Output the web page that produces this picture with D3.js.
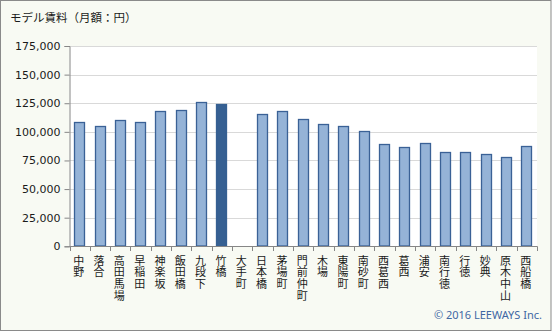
<!DOCTYPE html>
<html>
<head>
<meta charset="utf-8">
<script src="https://cdn.jsdelivr.net/npm/d3@7"></script>
<style>
  html, body { margin: 0; padding: 0; background: #ffffff; }
  svg { display: block; }
</style>
</head>
<body>
<svg id="chart" width="553" height="332"></svg>
<script>
// Stations along the line, west to east
const stations = ["中野", "落合", "高田馬場", "早稲田", "神楽坂", "飯田橋", "九段下", "竹橋",
  "大手町", "日本橋", "茅場町", "門前仲町", "木場", "東陽町", "南砂町", "西葛西", "葛西",
  "浦安", "南行徳", "行徳", "妙典", "原木中山", "西船橋"];
// Model monthly rent (yen); 大手町 has no listing
const rents = [109000, 105000, 110000, 109000, 118000, 119000, 126000, 124000,
  null, 116000, 118000, 111000, 107000, 105000, 100500, 89000, 86500,
  90000, 82000, 82000, 80500, 78000, 88000];
const highlighted = ["竹橋"];
const yTicks = [0, 25000, 50000, 75000, 100000, 125000, 150000, 175000];
const title = "モデル賃料（月額：円）";
const credit = "© 2016 LEEWAYS Inc.";

const svg = d3.select("#chart");
const W = 553, H = 332;
const plot = { left: 69.5, right: 537, top: 46, bottom: 246.3 };

// chart background and frame
svg.append("rect").attr("x", 0.5).attr("y", 0.5).attr("width", W - 2.5).attr("height", H - 2)
  .attr("fill", "#f8faf3").attr("stroke", "#8a8a8a").attr("stroke-width", 1);

// plot area
svg.append("rect").attr("x", plot.left).attr("y", plot.top)
  .attr("width", plot.right - plot.left).attr("height", plot.bottom - plot.top)
  .attr("fill", "#ffffff");

const x = d3.scaleBand().domain(stations).range([plot.left, plot.right]);
const y = d3.scaleLinear().domain([0, 175000]).range([plot.bottom, plot.top]);

// horizontal gridlines
svg.append("g").selectAll("line").data(yTicks.filter(d => d > 0)).join("line")
  .attr("x1", plot.left).attr("x2", plot.right)
  .attr("y1", d => Math.round(y(d)) + 0.5).attr("y2", d => Math.round(y(d)) + 0.5)
  .attr("stroke", "#d9d9d9").attr("stroke-width", 1);

// bars
const bw = x.bandwidth() * 0.54;
svg.append("g").selectAll("rect")
  .data(stations.map((s, i) => ({ s, v: rents[i] })).filter(d => d.v != null))
  .join("rect")
  .attr("x", d => Math.round(x(d.s) + (x.bandwidth() - bw) / 2) + 0.5)
  .attr("y", d => Math.round(y(d.v)) + 0.5)
  .attr("width", Math.round(bw) - 1)
  .attr("height", d => Math.round(plot.bottom) - Math.round(y(d.v)) - 0.5)
  .attr("fill", d => highlighted.includes(d.s) ? "#366092" : "#95b3d7")
  .attr("stroke", d => highlighted.includes(d.s) ? "#366092" : "#3a6196")
  .attr("stroke-width", 1.3);

// y axis
const yAxis = d3.axisLeft(y).tickValues(yTicks).tickSize(5).tickPadding(4)
  .tickFormat(d3.format(","));
const gy = svg.append("g").attr("transform", `translate(${plot.left},0)`).call(yAxis);
gy.select(".domain").attr("stroke", "#868686");
gy.selectAll(".tick line").attr("stroke", "#868686");
gy.selectAll(".tick text").attr("fill", "#1a1a1a")
  .style("font-family", "'DejaVu Sans', sans-serif").style("font-size", "11px");

// x axis: line with ticks on the band boundaries
const gx = svg.append("g");
gx.append("line").attr("x1", plot.left).attr("x2", plot.right + 0.5)
  .attr("y1", 246.5).attr("y2", 246.5).attr("stroke", "#868686");
const bounds = stations.map(s => x(s)).concat([plot.right]);
gx.selectAll("line.tk").data(bounds).join("line").attr("class", "tk")
  .attr("x1", d => Math.round(d) + 0.5).attr("x2", d => Math.round(d) + 0.5)
  .attr("y1", 246.5).attr("y2", 251).attr("stroke", "#868686");

// vertical category labels, set in vertical writing mode
svg.append("g").selectAll("text").data(stations).join("text")
  .attr("x", s => x(s) + x.bandwidth() / 2 - 1)
  .attr("y", 255)
  .attr("fill", "#1a1a1a")
  .style("writing-mode", "vertical-rl")
  .style("text-orientation", "upright")
  .style("letter-spacing", "0.8px")
  .style("font-family", "'Noto Sans CJK JP', sans-serif").style("font-size", "11px")
  .text(s => s);

// title
svg.append("text").attr("x", 10).attr("y", 22).text(title)
  .attr("fill", "#1a1a1a")
  .style("font-family", "'Noto Sans CJK JP', sans-serif").style("font-size", "11.5px");

// credit
svg.append("text").attr("x", 542).attr("y", 319).attr("text-anchor", "end").text(credit)
  .attr("fill", "#3f67a3")
  .style("font-family", "'Noto Sans', sans-serif").style("font-size", "11px");
</script>
</body>
</html>
